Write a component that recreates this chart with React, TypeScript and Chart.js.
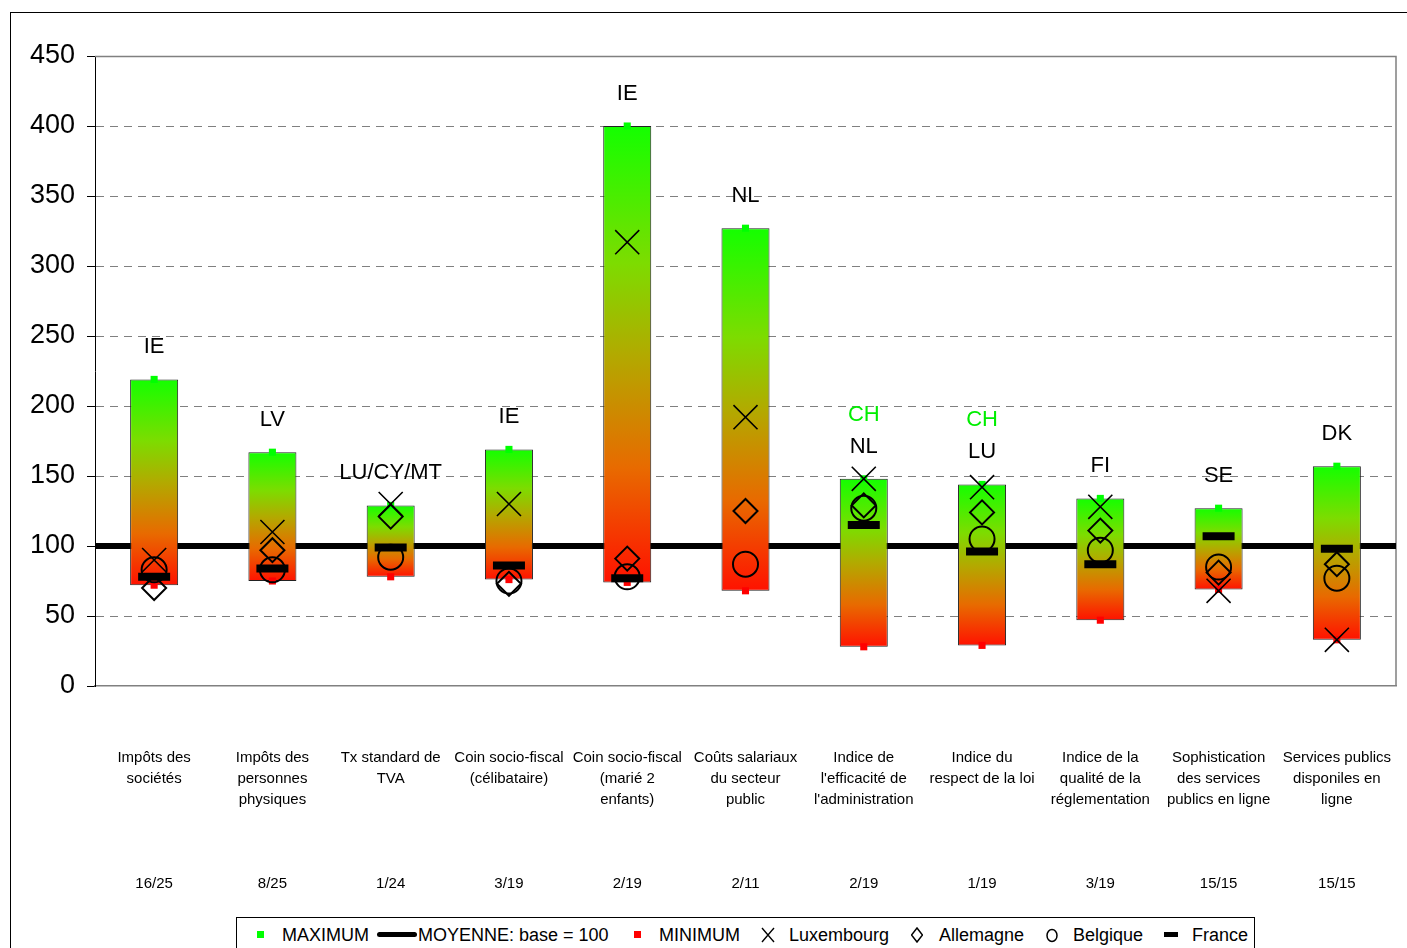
import React, { useEffect, useRef } from 'react';
import { Chart, registerables } from 'chart.js';

Chart.register(...registerables);

// ---------- DATA ----------
const categories: string[][] = [
  ['Impôts des', 'sociétés'],
  ['Impôts des', 'personnes', 'physiques'],
  ['Tx standard de', 'TVA'],
  ['Coin socio-fiscal', '(célibataire)'],
  ['Coin socio-fiscal', '(marié 2', 'enfants)'],
  ['Coûts salariaux', 'du secteur', 'public'],
  ['Indice de', "l'efficacité de", "l'administration"],
  ['Indice du', 'respect de la loi'],
  ['Indice de la', 'qualité de la', 'réglementation'],
  ['Sophistication', 'des services', 'publics en ligne'],
  ['Services publics', 'disponiles en', 'ligne'],
];
const ranks = ['16/25', '8/25', '1/24', '3/19', '2/19', '2/11', '2/19', '1/19', '3/19', '15/15', '15/15'];

const maxValues = [219, 167, 129, 169, 400, 327, 148, 144, 134, 127, 157];
const minValues = [72, 75, 78, 76, 74, 68, 28, 29, 47, 69, 33];
const luxembourg = [90, 110, 130, 130, 317, 192, 148, 142, 128, 68, 33];
const allemagne = [70, 97, 121, 73, 91, 125, 129, 124, 111, 81, 87];
const belgique = [83, 83, 92, 75, 78, 87, 127, 105, 97, 85, 77];
const france: (number | null)[] = [78, 84, 99, 86, 77, null, 115, 96, 87, 107, 98];

const maxLabels = ['IE', 'LV', 'LU/CY/MT', 'IE', 'IE', 'NL', 'NL', 'LU', 'FI', 'SE', 'DK'];
const extraLabels = ['', '', '', '', '', '', 'CH', 'CH', '', '', ''];

const baseLevel = 100;
const yMin = 0;
const yMax = 450;
const yStep = 50;

// ---------- STYLE ----------
const FONT = '"Liberation Sans", Arial, sans-serif';

const gradientStops: [number, string][] = [
  [0, '#14ff00'],
  [0.3, '#7ddc00'],
  [0.5, '#b2aa00'],
  [0.75, '#e86a00'],
  [1, '#ff1200'],
];

const barFill = (ctx: any) => {
  const chart = ctx.chart;
  if (ctx.type !== 'data' || !chart.chartArea || !chart.scales.y) return '#99bb00';
  const y = chart.scales.y;
  const top = y.getPixelForValue(maxValues[ctx.dataIndex]);
  const bot = y.getPixelForValue(minValues[ctx.dataIndex]);
  if (!isFinite(top) || !isFinite(bot) || top === bot) return '#99bb00';
  const g = chart.ctx.createLinearGradient(0, top, 0, bot);
  gradientStops.forEach(([o, c]) => g.addColorStop(o, c));
  return g;
};

const framePlugin = {
  id: 'frame',
  beforeDatasetsDraw(chart: any) {
    const { ctx, chartArea: a } = chart;
    ctx.save();
    ctx.strokeStyle = '#808080';
    ctx.lineWidth = 1.5;
    ctx.beginPath();
    ctx.moveTo(a.left, a.top + 0.5);
    ctx.lineTo(a.right, a.top + 0.5);
    ctx.lineTo(a.right, a.bottom);
    ctx.stroke();
    ctx.restore();
  },
};

const leaderPlugin = {
  id: 'leaders',
  afterDatasetsDraw(chart: any) {
    const idx = chart.data.datasets.findIndex((d: any) => d.label === 'bars');
    const meta = chart.getDatasetMeta(idx);
    const ctx = chart.ctx;
    ctx.save();
    ctx.font = `22px ${FONT}`;
    ctx.textAlign = 'center';
    ctx.textBaseline = 'middle';
    meta.data.forEach((bar: any, i: number) => {
      const p = bar.getProps(['x', 'y', 'base'], true);
      const top = Math.min(p.y, p.base);
      ctx.fillStyle = '#000';
      ctx.fillText(maxLabels[i], p.x, top - 32);
      if (extraLabels[i]) {
        ctx.fillStyle = '#00ee00';
        ctx.fillText(extraLabels[i], p.x, top - 64);
      }
    });
    ctx.restore();
  },
};

function ChartCanvas() {
  const ref = useRef<HTMLCanvasElement | null>(null);
  useEffect(() => {
    if (!ref.current) return;
    Chart.defaults.font.family = FONT;
    Chart.defaults.color = '#000';
    const markerBase = { type: 'line' as const, showLine: false, xAxisID: 'x', yAxisID: 'y' };
    const chart = new Chart(ref.current, {
      type: 'bar',
      data: {
        labels: categories.map((c) => c.join(' ')),
        datasets: [
          {
            ...markerBase,
            label: 'France',
            data: france,
            pointStyle: 'line',
            pointRadius: 16,
            pointBorderWidth: 8,
            borderColor: '#000',
            backgroundColor: '#000',
            order: 0,
          } as any,
          {
            ...markerBase,
            label: 'Belgique',
            data: belgique,
            pointStyle: 'circle',
            pointRadius: 12.5,
            pointBorderWidth: 2,
            borderColor: '#000',
            backgroundColor: 'rgba(0,0,0,0)',
            order: 1,
          },
          {
            ...markerBase,
            label: 'Allemagne',
            data: allemagne,
            pointStyle: 'rectRot',
            pointRadius: 12,
            pointBorderWidth: 2,
            borderColor: '#000',
            backgroundColor: 'rgba(0,0,0,0)',
            order: 2,
          },
          {
            ...markerBase,
            label: 'Luxembourg',
            data: luxembourg,
            pointStyle: 'crossRot',
            pointRadius: 17,
            pointBorderWidth: 1.6,
            borderColor: '#000',
            backgroundColor: '#000',
            order: 3,
          },
          {
            ...markerBase,
            label: 'MAXIMUM',
            data: maxValues,
            pointStyle: 'rect',
            pointRadius: 5,
            pointBorderWidth: 0,
            borderColor: '#00ff00',
            backgroundColor: '#00ff00',
            order: 4,
          },
          {
            ...markerBase,
            label: 'MINIMUM',
            data: minValues,
            pointStyle: 'rect',
            pointRadius: 5,
            pointBorderWidth: 0,
            borderColor: '#ff0000',
            backgroundColor: '#ff0000',
            order: 4,
          },
          {
            type: 'bar',
            label: 'bars',
            xAxisID: 'x',
            yAxisID: 'y',
            data: maxValues.map((m, i) => [minValues[i], m]),
            backgroundColor: barFill,
            borderColor: '#222',
            borderWidth: 1,
            borderSkipped: false,
            grouped: false,
            barPercentage: 0.406,
            categoryPercentage: 1,
            order: 5,
          } as any,
          {
            type: 'line',
            label: 'MOYENNE: base = 100',
            xAxisID: 'xb',
            yAxisID: 'y',
            data: [
              { x: -0.5, y: baseLevel },
              { x: categories.length - 0.5, y: baseLevel },
            ],
            borderColor: '#000',
            borderWidth: 6,
            pointRadius: 0,
            order: 6,
          } as any,
        ],
      },
      options: {
        animation: false,
        responsive: false,
        devicePixelRatio: 1,
        layout: { autoPadding: false, padding: { left: 0, right: 11, top: 56, bottom: 0 } },
        plugins: { legend: { display: false }, tooltip: { enabled: false } },
        events: [],
        scales: {
          x: {
            type: 'category',
            offset: true,
            grid: { display: false, drawTicks: false },
            border: { display: true, color: '#808080', width: 1.5 },
            ticks: {
              autoSkip: false,
              maxRotation: 0,
              minRotation: 0,
              padding: 61,
              font: { size: 15, lineHeight: '21px' as any },
              color: '#000',
              callback: (_v: any, i: number) => {
                const lines = [...categories[i]];
                while (lines.length < 6) lines.push('');
                lines.push(ranks[i]);
                return lines;
              },
            },
            afterFit: (s: any) => {
              s.height = 262;
              s.paddingLeft = 0;
              s.paddingRight = 0;
            },
          },
          xb: {
            type: 'linear',
            axis: 'x',
            position: 'bottom',
            display: false,
            offset: false,
            grid: { offset: false },
            min: -0.5,
            max: categories.length - 0.5,
          },
          y: {
            type: 'linear',
            min: yMin,
            max: yMax,
            ticks: { stepSize: yStep, font: { size: 27 }, color: '#000', padding: 12 },
            grid: {
              color: (c: any) =>
                c.tick && (c.tick.value === yMin || c.tick.value === yMax) ? 'rgba(0,0,0,0)' : '#808080',
              tickColor: '#000',
              tickLength: 8,
              lineWidth: 1,
            },
            border: { display: true, color: '#000', width: 1, dash: [8, 6] },
            afterFit: (s: any) => {
              s.width = 95;
            },
          },
        },
      },
      plugins: [framePlugin, leaderPlugin],
    });
    return () => chart.destroy();
  }, []);
  return <canvas ref={ref} width={1407} height={948} style={{ position: 'absolute', left: 0, top: 0, width: 1407, height: 948 }} />;
}

const sym = (content: React.ReactNode, left: number, w: number) => (
  <svg width={w} height={16} style={{ position: 'absolute', left, top: 9 }} viewBox={`0 0 ${w} 16`}>
    {content}
  </svg>
);

function Legend() {
  const text = (t: string, left: number) => (
    <span style={{ position: 'absolute', left, top: 0, lineHeight: '34px', fontSize: 18, whiteSpace: 'nowrap', color: '#000' }}>{t}</span>
  );
  return (
    <div
      style={{
        position: 'absolute',
        left: 236,
        top: 917,
        width: 1017,
        height: 60,
        border: '1px solid #000',
        background: '#fff',
        fontFamily: FONT,
      }}
    >
      <div style={{ position: 'absolute', left: 20, top: 13, width: 7, height: 7, background: '#00ff00' }} />
      {text('MAXIMUM', 45)}
      <div style={{ position: 'absolute', left: 140, top: 14, width: 40, height: 5, borderRadius: 3, background: '#000' }} />
      {text('MOYENNE: base = 100', 181)}
      <div style={{ position: 'absolute', left: 397, top: 13, width: 7, height: 7, background: '#ff0000' }} />
      {text('MINIMUM', 422)}
      {sym(<path d="M1 1 L13 15 M13 1 L1 15" stroke="#000" strokeWidth={1.4} fill="none" />, 524, 14)}
      {text('Luxembourg', 552)}
      {sym(<path d="M6 1 L11.5 8 L6 15 L0.5 8 Z" stroke="#000" strokeWidth={1.5} fill="none" />, 674, 12)}
      {text('Allemagne', 702)}
      {sym(<ellipse cx={6} cy={8.5} rx={5} ry={6} stroke="#000" strokeWidth={1.5} fill="none" />, 809, 12)}
      {text('Belgique', 836)}
      <div style={{ position: 'absolute', left: 927, top: 14, width: 14, height: 5, background: '#000' }} />
      {text('France', 955)}
    </div>
  );
}

export default function App() {
  return (
    <div style={{ position: 'absolute', left: 0, top: 0, width: 1407, height: 948, overflow: 'hidden', background: '#fff' }}>
      <ChartCanvas />
      <div style={{ position: 'absolute', left: 10, top: 12, width: 1500, height: 1000, border: '1px solid #000', pointerEvents: 'none' }} />
      <Legend />
    </div>
  );
}
